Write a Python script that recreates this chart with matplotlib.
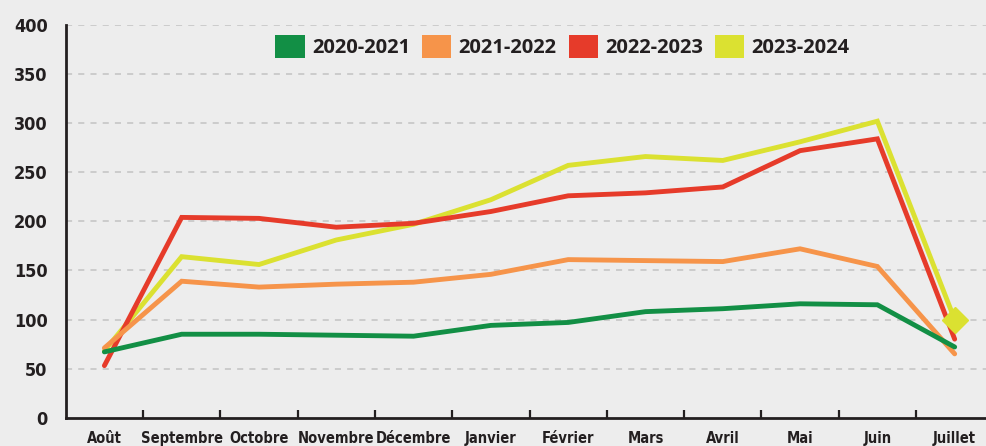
import matplotlib
matplotlib.use("Agg")
import matplotlib.pyplot as plt
from matplotlib.patches import Patch

# Donnees
mois = ["Août", "Septembre", "Octobre", "Novembre", "Décembre", "Janvier",
        "Février", "Mars", "Avril", "Mai", "Juin", "Juillet"]
s_2020_2021 = [67, 85, 85, 84, 83, 94, 97, 108, 111, 116, 115, 72]
s_2021_2022 = [71, 139, 133, 136, 138, 146, 161, 160, 159, 172, 154, 65]
s_2022_2023 = [53, 204, 203, 194, 198, 210, 226, 229, 235, 272, 284, 80]
s_2023_2024 = [68, 164, 156, 181, 197, 222, 257, 266, 262, 281, 302, 100]
y_ticks = [0, 50, 100, 150, 200, 250, 300, 350, 400]

series = [
    ("2020-2021", s_2020_2021, "#128f45", 4),
    ("2021-2022", s_2021_2022, "#f6944a", 3),
    ("2022-2023", s_2022_2023, "#e63b2a", 2),
    ("2023-2024", s_2023_2024, "#dbe131", 1),
]

bg = "#ededed"
axis_col = "#231f20"

fig = plt.figure(figsize=(9.87, 4.46), dpi=100, facecolor=bg)
ax = fig.add_axes([0.0666, 0.0635, 0.9398, 0.8805])
ax.set_facecolor(bg)

x = list(range(len(mois)))
for label, vals, col, z in series:
    ax.plot(x, vals, color=col, linewidth=3.5, zorder=z + 2,
            solid_joinstyle="miter", solid_capstyle="round")

# losange final de la serie 2023-2024
ax.plot([x[-1]], [s_2023_2024[-1]], marker="D", markersize=13,
        color="#dbe131", linestyle="none", zorder=8)

ax.set_xlim(-0.5, len(mois) - 0.5)
ax.set_ylim(0, 400)

ax.set_yticks(y_ticks)
ax.set_yticklabels([str(v) for v in y_ticks], family="DejaVu Sans",
                   fontstretch="condensed", fontweight="bold", fontsize=13,
                   color=axis_col)
ax.tick_params(axis="y", length=0, pad=13)

ax.set_xticks(x)
ax.set_xticklabels(mois, family="DejaVu Sans", fontstretch="condensed",
                   fontweight="bold", fontsize=10.5, color=axis_col)
ax.tick_params(axis="x", which="major", length=0, pad=9.5)
ax.set_xticks([i + 0.5 for i in range(len(mois) - 1)], minor=True)
ax.tick_params(axis="x", which="minor", direction="in", length=6,
               width=1.6, color=axis_col)

for v in y_ticks[1:]:
    ax.axhline(v, color="#c3c3c3", linestyle=(0, (4, 4)),
               linewidth=1.1, zorder=1)

for side in ["top", "right"]:
    ax.spines[side].set_visible(False)
for side in ["left", "bottom"]:
    ax.spines[side].set_color(axis_col)
    ax.spines[side].set_linewidth(2)

handles = [Patch(facecolor=col, edgecolor="none", label=label)
           for label, vals, col, z in series]
leg = ax.legend(handles=handles, loc="center", bbox_to_anchor=(0.5356, 0.945),
                ncol=4, frameon=False, handlelength=1.45, handleheight=1.4,
                handletextpad=0.36, columnspacing=0.6, borderpad=0,
                prop={"family": "Open Sans", "weight": "bold", "size": 14.5})
for t in leg.get_texts():
    t.set_color(axis_col)

fig.savefig("out.png", dpi=100, facecolor=bg)
